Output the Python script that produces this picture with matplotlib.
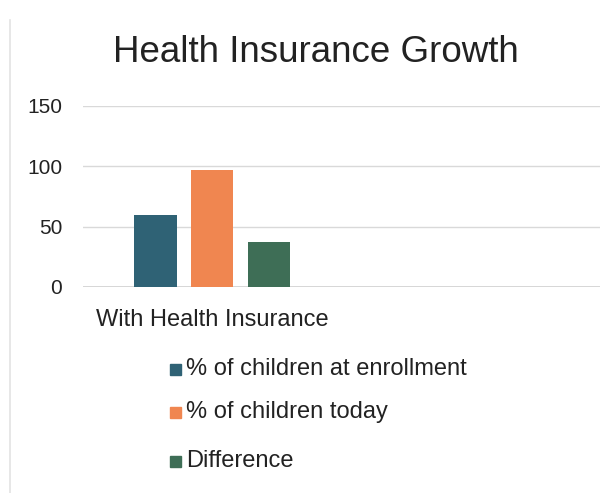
import matplotlib
matplotlib.use("Agg")
import matplotlib.pyplot as plt
from matplotlib.patches import Rectangle
from matplotlib.lines import Line2D
import numpy as np

categories = ["With Health Insurance", ""]
series_names = ["% of children at enrollment", "% of children today", "Difference"]
enrollment = [60, np.nan]
today = [97, np.nan]
difference = [37, np.nan]
series_values = [enrollment, today, difference]
colors = ["#2F6275", "#F08650", "#3E6E56"]
yticks = [0, 50, 100, 150]

plt.rcParams['font.family'] = ['Liberation Sans', 'DejaVu Sans']

fig = plt.figure(figsize=(6.15, 4.93), dpi=100)
ax = fig.add_axes([0.135, 0.418, 0.84, 0.367])

x = np.arange(len(categories))
offsets = [-0.22, 0.0, 0.22]
width = 0.165
for name, vals, off, c in zip(series_names, series_values, offsets, colors):
    ax.bar(x + off, vals, width=width, color=c, label=name, zorder=3)

ax.set_xlim(-0.5, 1.5)
ax.set_ylim(0, 150)
ax.set_yticks(yticks)
ax.set_yticklabels([str(t) for t in yticks], fontsize=15, color="#222222")
ax.set_xticks(x)
ax.set_xticklabels(categories, fontsize=17, color="#222222")
ax.tick_params(axis='y', length=0, pad=15)
ax.tick_params(axis='x', length=0, pad=16)
ax.grid(axis='y', color="#D9D9D9", linewidth=1.0, zorder=0)
for s in ax.spines.values():
    s.set_visible(False)
ax.axhline(0, color="#CFCFCF", linewidth=1.2, zorder=1)

fig.text(0.513, 0.894, "Health Insurance Growth", ha='center', va='center',
         fontsize=26.5, color="#222222")

# legend
leg_y = [1 - 369/493, 1 - 412/493, 1 - 461/493]
for name, c, yy in zip(series_names, colors, leg_y):
    fig.patches.append(Rectangle((170/615, yy - 5.5/493), 11/615, 11/493,
                                 transform=fig.transFigure, color=c))
    fig.text(186/615, yy, name, ha='left', va='center', fontsize=17, color="#222222")

# left frame line
fig.add_artist(Line2D([10/615, 10/615], [0.0, 0.96], transform=fig.transFigure,
                      color="#E3E3E3", linewidth=1.2))

fig.savefig("out.png", dpi=100, facecolor="white")
